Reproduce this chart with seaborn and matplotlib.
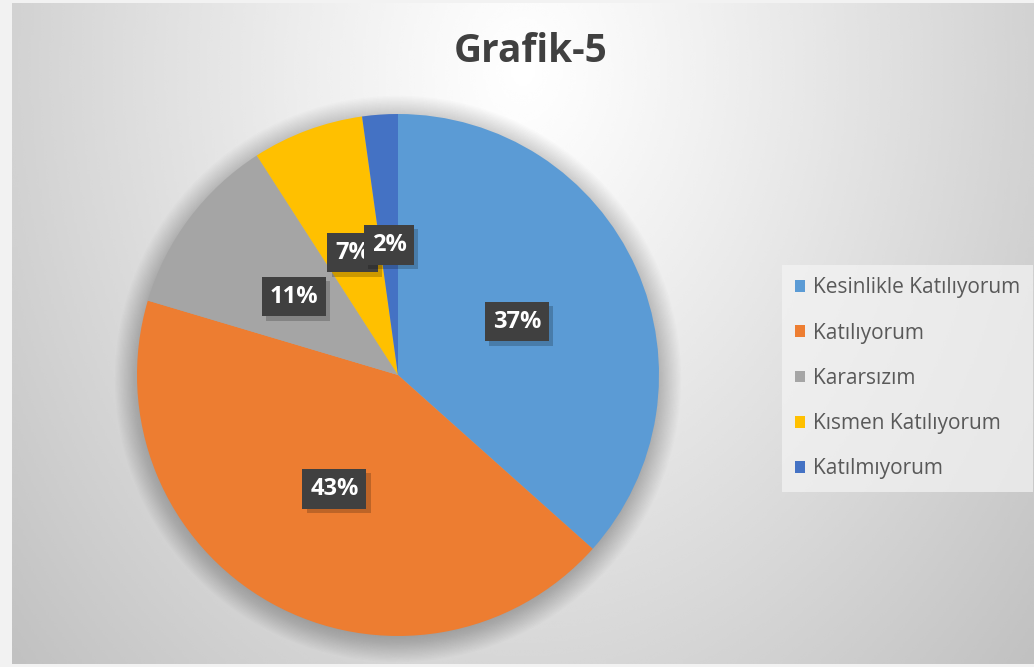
import numpy as np
import matplotlib
matplotlib.use("Agg")
import matplotlib.pyplot as plt
import matplotlib.patheffects as pe
from matplotlib.patches import Circle
import seaborn as sns

sns.set_theme(style="white")
plt.rcParams['font.family'] = ['Open Sans', 'DejaVu Sans']

# data
categories = ["Kesinlikle Katılıyorum", "Katılıyorum", "Kararsızım",
              "Kısmen Katılıyorum", "Katılmıyorum"]
shares = [36.6, 43.0, 11.3, 6.9, 2.2]
colors = sns.color_palette(["#5B9BD5", "#ED7D31", "#A5A5A5", "#FFC000", "#4472C4"])
title = "Grafik-5"

W, H = 1034, 667
fig = plt.figure(figsize=(W / 100, H / 100), dpi=100, facecolor="#f2f2f2")

# radial gradient background of the chart area
bg = fig.add_axes([12 / W, 3 / H, 1022 / W, 661 / H])
xx, yy = np.meshgrid(np.linspace(-1, 1, 400), np.linspace(0, 1, 300))
d = np.sqrt(xx ** 2 + ((yy - 0.1) / 1.0) ** 2)
shade = np.clip(255 - 45 * d ** 1.1, 0, 255) / 255.0
bg.imshow(shade, cmap="gray", vmin=0, vmax=1, aspect="auto",
          extent=[0, 1, 1, 0], interpolation="bicubic")
bg.set_axis_off()

# pie axes: centre (398, 375) px, radius 261 px
R = 261
lim = 1.15
half = R * lim
ax = fig.add_axes([(398 - half) / W, (H - 375 - half) / H, 2 * half / W, 2 * half / H])
ax.set_axis_off()

# soft shadow around the pie
for k in range(20):
    ax.add_patch(Circle((0.0, -0.015), 0.99 + k * 0.005, color="black",
                        alpha=0.011, lw=0, zorder=0))

wedges, texts, autotexts = ax.pie(
    shares, colors=colors, startangle=90, counterclock=False, radius=1.0,
    autopct="%1.0f%%", pctdistance=0.5,
    wedgeprops=dict(linewidth=0, zorder=2),
    textprops=dict(color="white", fontsize=17, fontweight="bold"))
ax.set_xlim(-lim, lim)
ax.set_ylim(-lim, lim)
ax.set_aspect("equal")

for t in autotexts:
    t.set_zorder(5)
    t.set_bbox(dict(boxstyle="square,pad=0.33", facecolor="#404040",
                    edgecolor="none"))
    t.get_bbox_patch().set_path_effects(
        [pe.SimplePatchShadow(offset=(3, -3), shadow_rgbFace="black", alpha=0.2),
         pe.Normal()])

fig.text(531 / W, 1 - 62 / H, title, ha="center", va="baseline",
         fontsize=28, fontweight="bold", color="#404040")

leg = fig.legend(wedges, categories, loc="upper left",
                 bbox_to_anchor=(782 / W, 1 - 265 / H), borderaxespad=0,
                 frameon=True, fontsize=15, labelcolor="#595959",
                 handlelength=0.5, handleheight=0.5, handletextpad=0.4,
                 labelspacing=1.16, borderpad=0.6, fancybox=False)
leg.get_frame().set_facecolor("#f4f4f4")
leg.get_frame().set_alpha(0.7)
leg.get_frame().set_edgecolor("none")

fig.savefig("out.png", dpi=100, facecolor=fig.get_facecolor())
